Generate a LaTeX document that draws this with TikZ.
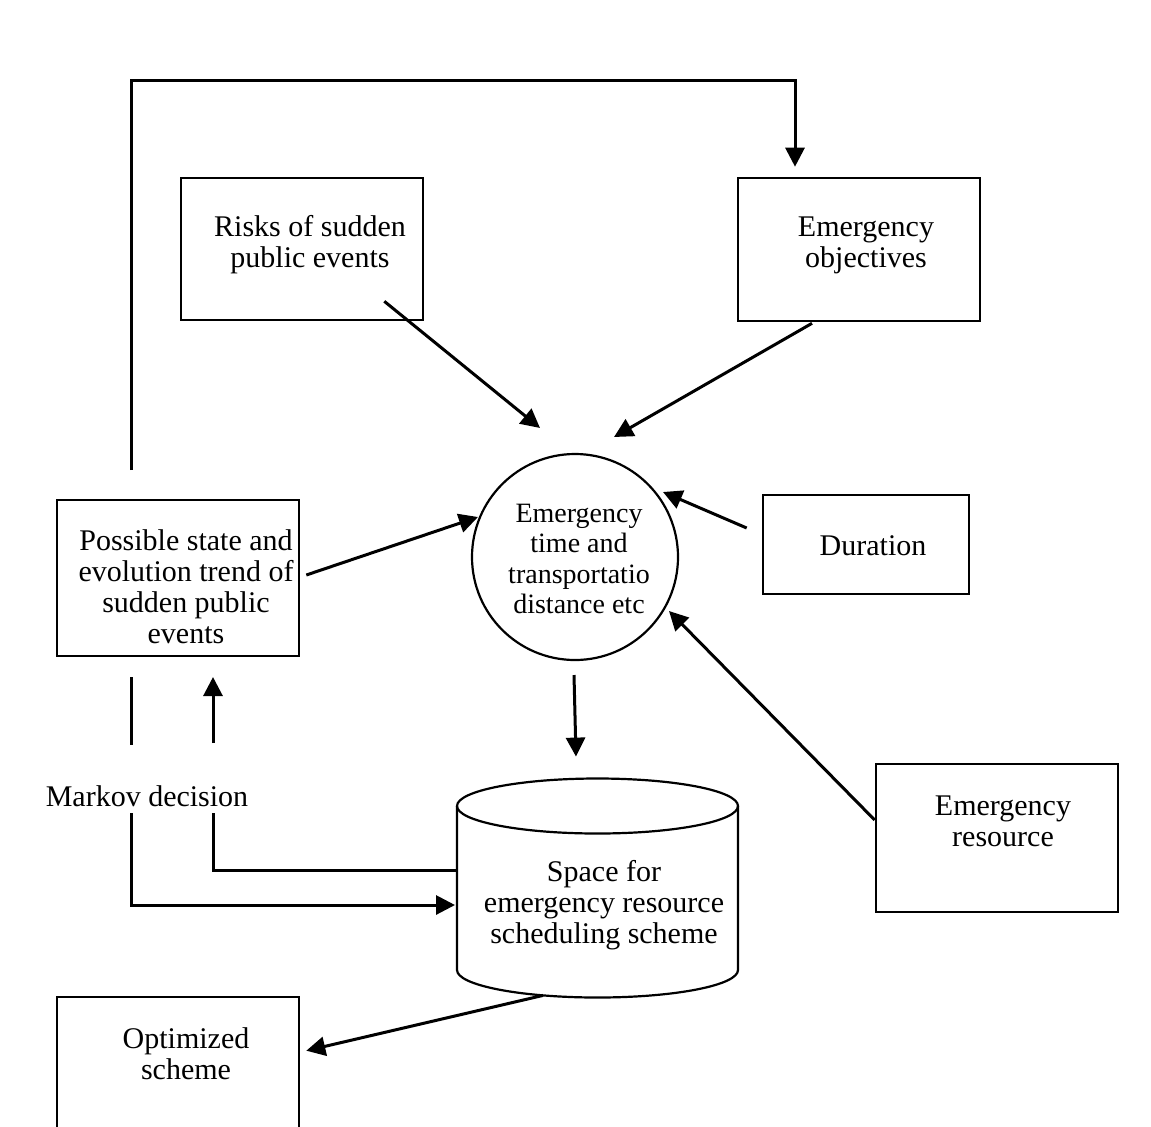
\documentclass[tikz,border=0pt]{standalone}
\usepackage{fontspec}
\setmainfont{Liberation Serif}
\usetikzlibrary{arrows.meta,calc}
\begin{document}
\begin{tikzpicture}[x=0.5pt,y=-0.5pt,
  box/.style={draw,line width=1.3pt,inner sep=0pt},
  txt/.style={align=center,inner sep=0pt,font=\fontsize{15pt}{15.5pt}\selectfont},
  ctxt/.style={align=center,inner sep=0pt,font=\fontsize{14pt}{15.25pt}\selectfont},
  conn/.style={line width=1.5pt},
  arr/.style={conn,-{Triangle[length=9.5pt,width=9.5pt]}}]
\useasboundingbox (0,0) rectangle (1151,1126);
\fill[white] (0,0) rectangle (1151,1126);

% boxes
\node[box,minimum width=121pt,minimum height=71pt] (risk) at (302,249) {};
\node[box,minimum width=121pt,minimum height=71.5pt] (obj) at (859,249.5) {};
\node[draw,circle,line width=1.1pt,minimum size=103pt,inner sep=0pt] (circ) at (575,557) {};
\node[box,minimum width=103pt,minimum height=49.5pt] (dur) at (866,544.5) {};
\node[box,minimum width=121pt,minimum height=78pt] (poss) at (178,578) {};
\node[box,minimum width=121pt,minimum height=74pt] (res) at (997,838) {};
\node[box,minimum width=121pt,minimum height=75pt] (opt) at (178,1072) {};
\node[minimum width=140.5pt,minimum height=110pt,inner sep=0pt] (cyl) at (597.5,888) {};

% cylinder
\draw[line width=1.1pt] (597.5,806) ellipse [x radius=70.25pt, y radius=13.75pt];
\draw[line width=1.1pt] (457,806) -- (457,970) arc[start angle=180, end angle=360, x radius=70.25pt, y radius=13.75pt] -- (738,806);

% texts
\node[txt] (trisk) at (310,245) {Risks of sudden\\public events};
\node[txt] (tobj) at (866,245) {Emergency\\objectives};
\node[ctxt] (tcirc) at (579,559) {Emergency\\time and\\transportatio\\distance etc};
\node[txt] (tdur) at (873,546) {Duration};
\node[txt] (tposs) at (186,587) {Possible state and\\evolution trend of\\sudden public\\events};
\node[txt] (tres) at (1003,821) {Emergency\\resource};
\node[txt] (tcyl) at (604,905) {Space for\\emergency resource\\scheduling scheme};
\node[txt] (topt) at (186,1054) {Optimized\\scheme};
\node[txt] (mk) at (147,796) {Markov decision};

% feedback loop on top
\coordinate (fb0) at (131,470);
\draw[arr] (fb0) -- (131,80) -- (795,80) -- ($(obj.north)+(-64,-10)$);

% arrows into circle
\draw[arr] ($(risk.south east)+(-40,-20)$) -- ($(circ.center)+(-35,-129)$);
\draw[arr] ($(obj.south)+(-47,1)$) -- ($(circ.center)+(39,-120)$);
\draw[arr] ($(poss.east)+(6,-3)$) -- ($(circ.center)+(-97,-40)$);
\draw[arr] ($(dur.west)+(-15,-16.5)$) -- ($(circ.center)+(88,-65)$);
\draw[arr] ($(res.west)+(0,-18)$) -- ($(circ.center)+(94,54)$);

% circle to cylinder, cylinder to optimized
\draw[arr] ($(circ.center)+(-1,118)$) -- ($(cyl.north)+(-21.5,-21)$);
\draw[arr] ($(cyl.south)+(-54.5,-3)$) -- ($(opt.north east)+(6,55)$);

% Markov decision lines
\coordinate (a1) at (131,677);
\coordinate (a2) at (131,745);
\coordinate (a3) at (131,813);
\coordinate (a4) at (455,905);
\draw[conn] (a1) -- (a2);
\draw[arr] (a3) |- (a4);
\coordinate (b1) at (457,870);
\coordinate (b3) at (213,813);
\draw[conn] (b1) -| (b3);
\coordinate (c1) at (213,743);
\coordinate (c2) at (213,677);
\draw[arr] (c1) -- (c2);
\end{tikzpicture}
\end{document}
